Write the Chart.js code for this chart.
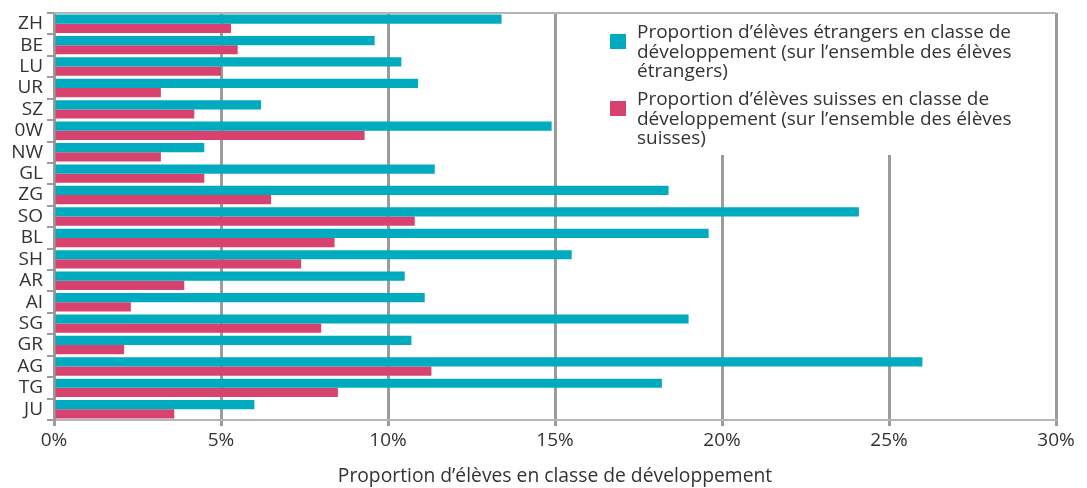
<!DOCTYPE html>
<html>
<head>
<meta charset="utf-8">
<script src="https://cdn.jsdelivr.net/npm/chart.js@4"></script>
<style>
  html, body { margin: 0; padding: 0; background: #fff; }
  #wrap { width: 1087px; height: 488px; position: relative; }
</style>
</head>
<body>
<div id="wrap"><canvas id="chart"></canvas></div>
<script>
// cantons, top to bottom
const cantons = ['ZH', 'BE', 'LU', 'UR', 'SZ', '0W', 'NW', 'GL', 'ZG', 'SO', 'BL', 'SH', 'AR', 'AI', 'SG', 'GR', 'AG', 'TG', 'JU'];

// % of foreign pupils in special classes
const foreignPct = [13.4, 9.6, 10.4, 10.9, 6.2, 14.9, 4.5, 11.4, 18.4, 24.1, 19.6, 15.5, 10.5, 11.1, 19.0, 10.7, 26.0, 18.2, 6.0];
// % of Swiss pupils in special classes
const swissPct = [5.3, 5.5, 5.0, 3.2, 4.2, 9.3, 3.2, 4.5, 6.5, 10.8, 8.4, 7.4, 3.9, 2.3, 8.0, 2.1, 11.3, 8.5, 3.6];

const xTicks = [0, 5, 10, 15, 20, 25, 30];

const legendLabels = [
    ['Proportion d\u2019élèves étrangers en classe de', 'développement (sur l\u2019ensemble des élèves', 'étrangers)'],
    ['Proportion d\u2019élèves suisses en classe de', 'développement (sur l\u2019ensemble des élèves', 'suisses)']
];
const axisTitle = 'Proportion d\u2019élèves en classe de développement';

const TEAL = '#00aabf';
const PINK = '#d7426e';
const GRID = '#9b9b9b';
const TEXT = '#333333';
const FONT = "'Open Sans', sans-serif";
const FSIZE = 19;

// white legend box over the gridlines, top right + frame bits
const boxLegend = {
    id: 'boxLegend',
    afterDraw(chart) {
        const ctx = chart.ctx;
        const area = chart.chartArea;
        const x0 = 581, y0 = area.top + 1;
        ctx.save();
        ctx.fillStyle = '#fff';
        ctx.fillRect(x0, y0, area.right - x0 - 1, 141);
        const colors = [TEAL, PINK];
        ctx.font = FSIZE + 'px ' + FONT;
        ctx.textBaseline = 'middle';
        legendLabels.forEach((lines, i) => {
            const top = 33 + i * 67;
            ctx.fillStyle = colors[i];
            ctx.fillRect(610, top + 1, 16, 15);
            ctx.fillStyle = TEXT;
            lines.forEach((t, j) => ctx.fillText(t, 637, top + j * 19.5));
        });
        // top frame line
        ctx.strokeStyle = '#b5b5b5';
        ctx.lineWidth = 2;
        ctx.beginPath();
        ctx.moveTo(area.left, area.top);
        ctx.lineTo(area.right, area.top);
        ctx.stroke();
        // category boundary ticks on the y axis
        ctx.strokeStyle = GRID;
        ctx.lineWidth = 2;
        const step = (area.bottom - area.top) / cantons.length;
        ctx.beginPath();
        for (let i = 0; i <= cantons.length; i++) {
            const y = Math.round(area.top + i * step);
            ctx.moveTo(area.left - 7, y);
            ctx.lineTo(area.left, y);
        }
        ctx.stroke();
        ctx.restore();
    }
};

new Chart(document.getElementById('chart'), {
    type: 'bar',
    data: {
        labels: cantons,
        datasets: [
            { label: legendLabels[0].join(' '), data: foreignPct, backgroundColor: TEAL },
            { label: legendLabels[1].join(' '), data: swissPct, backgroundColor: PINK }
        ]
    },
    options: {
        indexAxis: 'y',
        responsive: true,
        maintainAspectRatio: false,
        animation: false,
        layout: { padding: { top: 13, right: 31, left: 0, bottom: 0 } },
        datasets: { bar: { categoryPercentage: 0.86, barPercentage: 1.0 } },
        plugins: {
            legend: { display: false },
            tooltip: { enabled: false }
        },
        scales: {
            x: {
                min: 0,
                max: 30,
                afterBuildTicks: s => { s.ticks = xTicks.map(v => ({ value: v })); },
                afterFit: s => { s.height = 68; },
                grid: { color: GRID, lineWidth: 3, tickLength: 6 },
                border: { color: '#b5b5b5', width: 2 },
                ticks: {
                    color: TEXT,
                    font: { family: FONT, size: FSIZE },
                    padding: 3,
                    callback: v => v + '%'
                },
                title: {
                    display: true,
                    text: axisTitle,
                    color: TEXT,
                    font: { family: FONT, size: 19.3 },
                    padding: { top: 1, bottom: 0 }
                }
            },
            y: {
                afterFit: s => { s.width = 54; s.paddingTop = 0; s.paddingBottom = 0; },
                grid: { display: true, drawOnChartArea: false, drawTicks: false, offset: true, color: 'rgba(0,0,0,0)' },
                border: { color: GRID, width: 3 },
                ticks: {
                    autoSkip: false,
                    color: TEXT,
                    font: { family: FONT, size: FSIZE },
                    padding: 11
                }
            }
        }
    },
    plugins: [boxLegend]
});
</script>
</body>
</html>
